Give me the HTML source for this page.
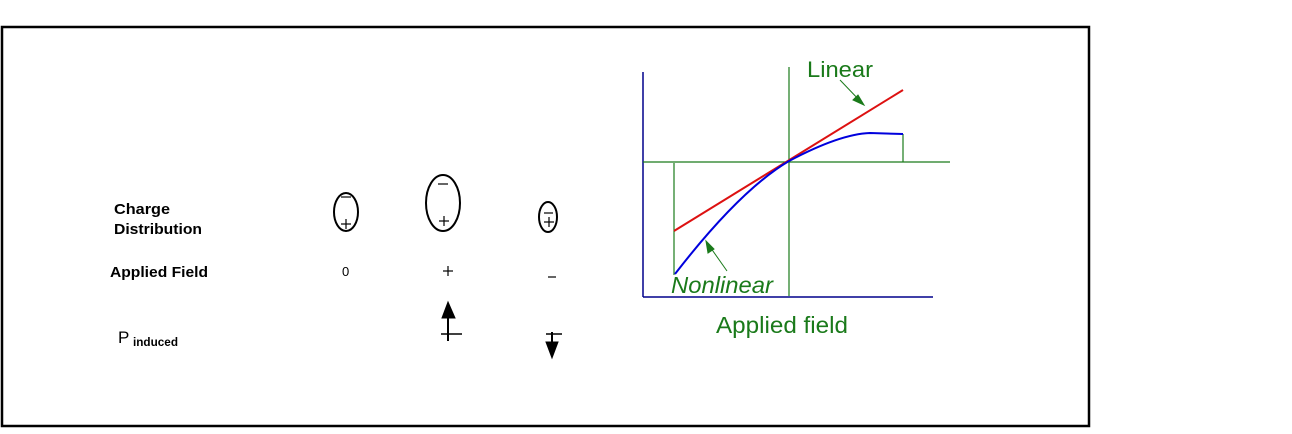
<!DOCTYPE html>
<html><head><meta charset="utf-8"><style>
body{margin:0;width:1292px;height:429px;background:#fff;overflow:hidden}
</style></head><body>
<svg width="1292" height="429" xmlns="http://www.w3.org/2000/svg" font-family="Liberation Sans, Arial, sans-serif">
<rect x="2" y="27" width="1087" height="399" fill="none" stroke="#000" stroke-width="2.5"/>
<g font-weight="bold" font-size="15" fill="#000">
<text x="114" y="214" textLength="56" lengthAdjust="spacingAndGlyphs">Charge</text>
<text x="114" y="234" textLength="88" lengthAdjust="spacingAndGlyphs">Distribution</text>
<text x="110" y="277" textLength="98" lengthAdjust="spacingAndGlyphs">Applied Field</text>
<text x="118" y="343" font-weight="normal" font-size="17">P</text>
<text x="133" y="346" font-size="11.5" textLength="45" lengthAdjust="spacingAndGlyphs">induced</text>
</g>
<g fill="none" stroke="#000" stroke-width="2">
<ellipse cx="346" cy="212" rx="12" ry="19"/>
<ellipse cx="443" cy="203" rx="17" ry="28"/>
<ellipse cx="548" cy="217" rx="9" ry="15"/>
</g>
<g stroke="#000" stroke-width="1.2">
<line x1="341" y1="197" x2="351" y2="197"/>
<line x1="341" y1="224" x2="351" y2="224"/><line x1="346" y1="219" x2="346" y2="229"/>
<line x1="438" y1="184" x2="448" y2="184"/>
<line x1="439" y1="221" x2="449" y2="221"/><line x1="444" y1="216" x2="444" y2="226"/>
<line x1="544" y1="213" x2="553" y2="213"/>
<line x1="544" y1="222" x2="554" y2="222"/><line x1="549" y1="217" x2="549" y2="227"/>
<line x1="443" y1="271" x2="453" y2="271"/><line x1="448" y1="266" x2="448" y2="276"/>
<line x1="548" y1="277" x2="556" y2="277"/>
</g>
<text x="342" y="276" font-size="13">0</text>
<g stroke="#000">
<line x1="448" y1="318" x2="448" y2="341" stroke-width="2"/>
<line x1="441" y1="334" x2="462" y2="334" stroke-width="1.5"/>
<polygon points="448,302 442,318 455,318" fill="#000"/>
<line x1="552" y1="332" x2="552" y2="343" stroke-width="2"/>
<line x1="546" y1="334" x2="562" y2="334" stroke-width="1.5"/>
<polygon points="546,342 558,342 552,358" fill="#000"/>
</g>
<g stroke="#00008b" stroke-width="1.5" fill="none">
<line x1="643" y1="72" x2="643" y2="297"/>
<line x1="643" y1="297" x2="933" y2="297"/>
</g>
<g stroke="#1a7a1a" stroke-width="1.2" fill="none">
<line x1="789" y1="67" x2="789" y2="296"/>
<line x1="643" y1="162" x2="950" y2="162"/>
<line x1="674" y1="163" x2="674" y2="275"/>
<line x1="903" y1="134" x2="903" y2="162"/>
</g>
<line x1="674" y1="231" x2="903" y2="90" stroke="#dd1111" stroke-width="2"/>
<path d="M675,274 Q740,190 789,161 Q840,134 870,133 L903,134" stroke="#0000dd" stroke-width="2" fill="none"/>
<g stroke="#1a7a1a" stroke-width="1" fill="#1a7a1a">
<line x1="840" y1="80" x2="862" y2="103"/>
<polygon points="864,105 853,100 858,95"/>
<line x1="727" y1="271" x2="708" y2="244"/>
<polygon points="706,241 708,253 714,249"/>
</g>
<g fill="#1a7a1a">
<text x="807" y="77" font-size="22" textLength="66" lengthAdjust="spacingAndGlyphs">Linear</text>
<text x="671" y="293" font-size="23" font-style="italic" textLength="102" lengthAdjust="spacingAndGlyphs">Nonlinear</text>
<text x="716" y="333" font-size="23" textLength="132" lengthAdjust="spacingAndGlyphs">Applied field</text>
</g>
</svg>
</body></html>
